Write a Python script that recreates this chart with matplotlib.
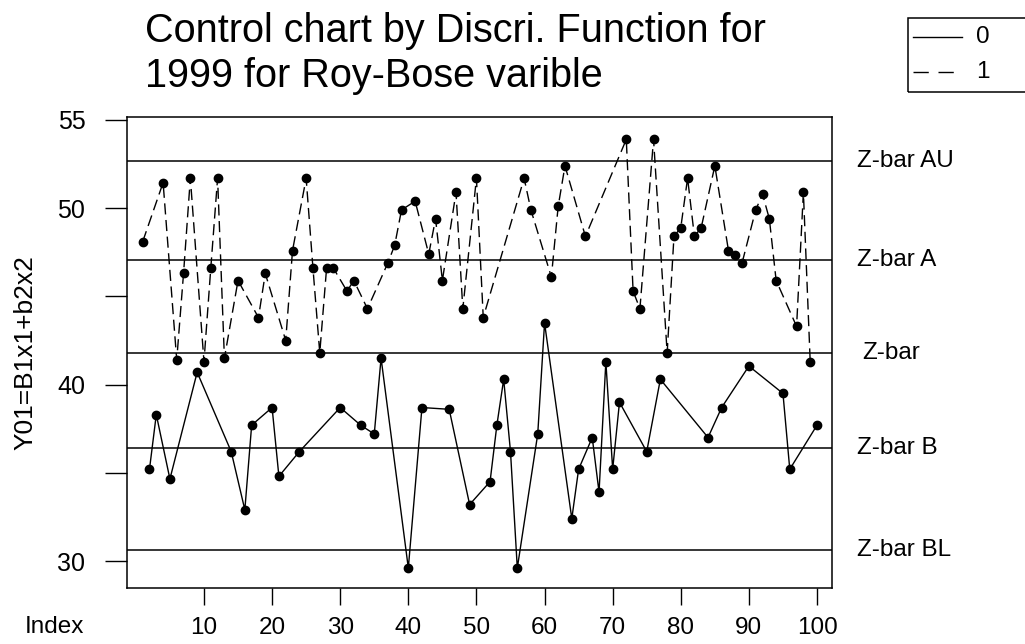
import numpy as np
import matplotlib
matplotlib.use("Agg")
import matplotlib.pyplot as plt
from matplotlib.lines import Line2D
from matplotlib.patches import Rectangle
import matplotlib.transforms as mtransforms

plt.rcParams['font.family'] = ['Liberation Sans', 'DejaVu Sans']

# group 1 (dashed, upper cloud)
idx_1 = [1, 4, 6, 7, 8, 10, 11, 12, 13, 15, 18, 19, 22, 23, 25, 26, 27, 28, 29, 31,
         32, 34, 37, 38, 39, 41, 43, 44, 45, 47, 48, 50, 51, 57, 58, 61, 62, 63, 66, 72,
         73, 74, 76, 78, 79, 80, 81, 82, 83, 85, 87, 88, 89, 91, 92, 93, 94, 97, 98, 99]
y_1 = [48.1, 51.45, 41.4, 46.3, 51.7, 41.3, 46.6, 51.7, 41.5, 45.9,
       43.8, 46.3, 42.5, 47.6, 51.7, 46.6, 41.8, 46.6, 46.6, 45.3,
       45.9, 44.3, 46.9, 47.9, 49.9, 50.4, 47.4, 49.4, 45.9, 50.9,
       44.3, 51.7, 43.8, 51.7, 49.9, 46.1, 50.1, 52.4, 48.4, 53.9,
       45.3, 44.3, 53.9, 41.8, 48.4, 48.9, 51.7, 48.4, 48.9, 52.4,
       47.6, 47.35, 46.9, 49.9, 50.8, 49.4, 45.9, 43.3, 50.9, 41.3]

# group 0 (solid, lower cloud)
idx_0 = [2, 3, 5, 9, 14, 16, 17, 20, 21, 24, 30, 33, 35, 36, 40, 42, 46, 49, 52, 53,
         54, 55, 56, 59, 60, 64, 65, 67, 68, 69, 70, 71, 75, 77, 84, 86, 90, 95, 96, 100]
y_0 = [35.2, 38.3, 34.65, 40.7, 36.2, 32.9, 37.7, 38.7, 34.8, 36.2,
       38.7, 37.7, 37.2, 41.5, 29.6, 38.7, 38.6, 33.2, 34.5, 37.7,
       40.3, 36.2, 29.6, 37.2, 43.5, 32.4, 35.2, 37.0, 33.9, 41.3,
       35.2, 39.0, 36.2, 40.3, 37.0, 38.7, 41.05, 39.5, 35.2, 37.7]

# control limits
limit_names = ['Z-bar AU', 'Z-bar A', 'Z-bar', 'Z-bar B', 'Z-bar BL']
limit_vals = [52.65, 47.05, 41.8, 36.4, 30.65]

xticks = [10, 20, 30, 40, 50, 60, 70, 80, 90, 100]
yticks = [30, 35, 40, 45, 50, 55]
ytick_labels = ['30', '', '40', '', '50', '55']

W, H = 1025, 644
fig = plt.figure(figsize=(W / 100, H / 100), dpi=100)

def fx(px):
    return px / W

def fy(py):
    return 1 - py / H

ax = fig.add_axes([fx(127), fy(588), fx(832) - fx(127), fy(117) - fy(588)])

ax.plot(idx_0, y_0, color='black', lw=1.0, marker='o', ms=6)
ax.plot(idx_1, y_1, color='black', lw=1.0, marker='o', ms=6, dashes=(8, 4))

for v in limit_vals:
    ax.axhline(v, color='black', lw=1.1)

ax.set_xlim(-1.3, 102.2)
ax.set_ylim(28.47, 55.17)

ax.set_xticks(xticks)
ax.set_yticks(yticks)
ax.set_yticklabels(ytick_labels)
ax.tick_params(axis='x', length=12, width=1.0, labelsize=17.5, pad=9)
ax.tick_params(axis='y', length=16, width=1.0, labelsize=18, pad=14)
for s in ax.spines.values():
    s.set_linewidth(1.1)

# labels of the limit lines on the right
trans = mtransforms.blended_transform_factory(ax.transAxes, ax.transData)
for name, v in zip(limit_names, limit_vals):
    xoff = 1.043 if name == 'Z-bar' else 1.035
    ax.text(xoff, v, name, transform=trans, ha='left', va='center', fontsize=17.5,
            clip_on=False)

ax.set_ylabel('Y01=B1x1+b2x2', fontsize=19, labelpad=14)
fig.text(fx(54), fy(627), 'Index', ha='center', va='center', fontsize=17.5)

# title
fig.text(fx(145), fy(31), 'Control chart by Discri. Function for', ha='left',
         va='center', fontsize=28.5)
fig.text(fx(145), fy(76), '1999 for Roy-Bose varible', ha='left',
         va='center', fontsize=28.5)

# legend box, cut by the right edge
fig.patches.append(Rectangle((fx(908), fy(92)), fx(1040) - fx(908), fy(18) - fy(92),
                             transform=fig.transFigure, fill=False, lw=1.1,
                             edgecolor='black'))
fig.lines.append(Line2D([fx(913), fx(962)], [fy(37), fy(37)],
                        transform=fig.transFigure, color='black', lw=1.0))
fig.lines.append(Line2D([fx(913), fx(957)], [fy(72), fy(72)],
                        transform=fig.transFigure, color='black', lw=1.0,
                        dashes=(11, 7)))
fig.text(fx(983), fy(37), '0', ha='center', va='center', fontsize=17.5)
fig.text(fx(983), fy(72), '1', ha='center', va='center', fontsize=17.5)

plt.savefig('out.png', dpi=100)
